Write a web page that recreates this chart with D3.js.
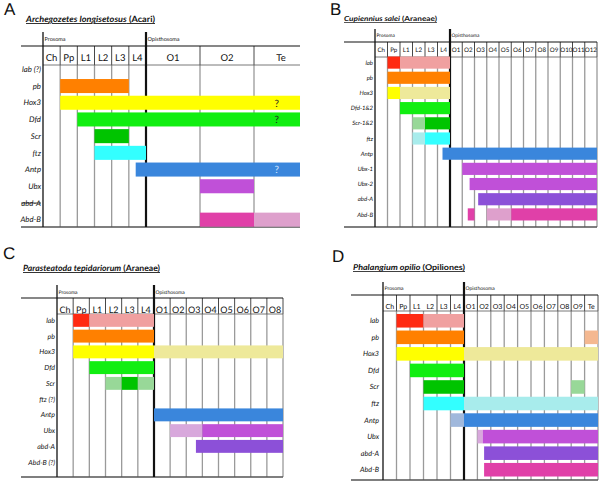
<!DOCTYPE html>
<html><head><meta charset="utf-8">
<script src="https://cdn.jsdelivr.net/npm/d3@7"></script>
<style>
body{margin:0;background:#fff;-webkit-font-smoothing:antialiased}
svg{display:block}
text{font-family:Lato,"Open Sans",sans-serif;fill:#111;text-rendering:geometricPrecision}
</style>
</head><body>
<svg id="chart" width="600" height="482"></svg>
<script>
// ---------------- DATA ----------------
const geneKeys = ["lab","pb","Hox3","Dfd","Scr","ftz","Antp","Ubx","abd-A","Abd-B"];

// Panel A
const titleA = ["Archegozetes longisetosus", "Acari"];
const columnsA = ["Ch","Pp","L1","L2","L3","L4","O1","O2","Te"];
const rowsA = ["lab (?)","pb","Hox3","Dfd","Scr","ftz","Antp","Ubx","abd-A","Abd-B"];
const struckA = ["abd-A"];
const barsA = [
  {row:"pb", from:1, to:5, level:"strong"},
  {row:"Hox3", from:1, to:9, level:"strong"},
  {row:"Dfd", from:2, to:9, level:"strong"},
  {row:"Scr", from:3, to:5, level:"strong"},
  {row:"ftz", from:3, to:6, level:"strong"},
  {row:"Antp", from:5.4, to:9, level:"strong"},
  {row:"Ubx", from:7, to:8, level:"strong"},
  {row:"Abd-B", from:7, to:8, level:"strong"},
  {row:"Abd-B", from:8, to:9, level:"weak"}
];
const notesA = [
  {row:"Hox3", col:"Te", text:"?", tone:"dark"},
  {row:"Dfd", col:"Te", text:"?", tone:"dark"},
  {row:"Antp", col:"Te", text:"?", tone:"light"}
];

// Panel B
const titleB = ["Cupiennius salei", "Araneae"];
const columnsB = ["Ch","Pp","L1","L2","L3","L4","O1","O2","O3","O4","O5","O6","O7","O8","O9","O10","O11","O12"];
const rowsB = ["lab","pb","Hox3","Dfd-1&2","Scr-1&2","ftz","Antp","Ubx-1","Ubx-2","abd-A","Abd-B"];
const barsB = [
  {row:"lab", from:1, to:2, level:"strong"},
  {row:"lab", from:2, to:6, level:"weak"},
  {row:"pb", from:1, to:6, level:"strong"},
  {row:"Hox3", from:1, to:2, level:"strong"},
  {row:"Hox3", from:2, to:6, level:"weak"},
  {row:"Dfd-1&2", from:2, to:6, level:"strong"},
  {row:"Scr-1&2", from:3, to:4, level:"weak"},
  {row:"Scr-1&2", from:4, to:6, level:"strong"},
  {row:"ftz", from:3, to:4, level:"weak"},
  {row:"ftz", from:4, to:6, level:"strong"},
  {row:"Antp", from:5.4, to:18, level:"strong"},
  {row:"Ubx-1", from:7, to:18, level:"strong"},
  {row:"Ubx-2", from:7.6, to:18, level:"strong"},
  {row:"abd-A", from:8.3, to:18, level:"strong"},
  {row:"Abd-B", from:7.45, to:8, level:"strong"},
  {row:"Abd-B", from:9, to:11, level:"weak"},
  {row:"Abd-B", from:11, to:18, level:"strong"}
];

// Panel C
const titleC = ["Parasteatoda tepidariorum", "Araneae"];
const columnsC = ["Ch","Pp","L1","L2","L3","L4","O1","O2","O3","O4","O5","O6","O7","O8"];
const rowsC = ["lab","pb","Hox3","Dfd","Scr","ftz  (?)","Antp","Ubx","abd-A","Abd-B (?)"];
const barsC = [
  {row:"lab", from:1, to:2, level:"strong"},
  {row:"lab", from:2, to:6, level:"weak"},
  {row:"pb", from:1, to:6, level:"strong"},
  {row:"Hox3", from:1, to:6, level:"strong"},
  {row:"Hox3", from:6, to:14, level:"weak"},
  {row:"Dfd", from:2, to:6, level:"strong"},
  {row:"Scr", from:3, to:4, level:"weak"},
  {row:"Scr", from:4, to:5, level:"strong"},
  {row:"Scr", from:5, to:6, level:"weak"},
  {row:"Antp", from:6, to:14, level:"strong"},
  {row:"Ubx", from:7, to:9, level:"weak"},
  {row:"Ubx", from:9, to:14, level:"strong"},
  {row:"abd-A", from:8.6, to:14, level:"strong"}
];

// Panel D
const titleD = ["Phalangium opilio", "Opiliones"];
const columnsD = ["Ch","Pp","L1","L2","L3","L4","O1","O2","O3","O4","O5","O6","O7","O8","O9","Te"];
const rowsD = ["lab","pb","Hox3","Dfd","Scr","ftz","Antp","Ubx","abd-A","Abd-B"];
const barsD = [
  {row:"lab", from:1, to:3, level:"strong"},
  {row:"lab", from:3, to:6, level:"weak"},
  {row:"pb", from:1, to:6, level:"strong"},
  {row:"pb", from:15, to:16, level:"weak"},
  {row:"Hox3", from:1, to:6, level:"strong"},
  {row:"Hox3", from:6, to:16, level:"weak"},
  {row:"Dfd", from:2, to:6, level:"strong"},
  {row:"Scr", from:3, to:6, level:"strong"},
  {row:"Scr", from:14, to:15, level:"weak"},
  {row:"ftz", from:3, to:6, level:"strong"},
  {row:"ftz", from:6, to:16, level:"weak"},
  {row:"Antp", from:5, to:6, level:"weak"},
  {row:"Antp", from:6, to:16, level:"strong"},
  {row:"Ubx", from:7, to:7.4, level:"weak"},
  {row:"Ubx", from:7.4, to:16, level:"strong"},
  {row:"abd-A", from:7.5, to:16, level:"strong"},
  {row:"Abd-B", from:7.5, to:16, level:"strong"}
];

// ---------------- STYLE ----------------
const colorMap = {
  "lab":   ["#ff2a12", "#f0a0a0"],
  "pb":    ["#ff8000", "#f4b890"],
  "Hox3":  ["#ffff00", "#eee99a"],
  "Dfd":   ["#11ee11", "#11ee11"],
  "Scr":   ["#00c400", "#98d898"],
  "ftz":   ["#33ffff", "#a8ecec"],
  "Antp":  ["#3a86dc", "#a0b8dc"],
  "Ubx":   ["#c050d8", "#d8a8dc"],
  "abd-A": ["#8c50d8", "#8c50d8"],
  "Abd-B": ["#e040a8", "#dea0cc"]
};
const geneKey = label => geneKeys.find(k => label.startsWith(k));

const svg = d3.select("#chart");

function drawPanel(cfg, columns, rows, bars, notes, title, struck) {
  let g = svg.append("g");
  svg.append("text").attr("x", cfg.letterX).attr("y", cfg.letterY)
    .style("font-family", "'Liberation Sans', Arial, sans-serif")
    .style("font-size", "17px").text(cfg.letter);
  if (cfg.clip) {
    svg.append("clipPath").attr("id", "clip" + cfg.letter)
      .append("rect").attr("x", 0).attr("y", 0).attr("width", cfg.clip).attr("height", 482);
    g.attr("clip-path", `url(#clip${cfg.letter})`);
  }
  const n = columns.length;
  const x = d3.scaleLinear().domain([0, 6, n]).range([cfg.x0, cfg.xMid, cfg.x1]);
  const y = d3.scaleBand().domain(rows).range([cfg.r0, cfg.r1])
    .paddingInner(cfg.pad).paddingOuter(cfg.pad / 2);

  const t = g.append("text").attr("x", cfg.titleX).attr("y", cfg.titleY)
    .style("font-size", cfg.titleSize + "px").style("font-weight", "bold")
    .style("text-decoration", "underline");
  if (cfg.titleLen) t.attr("textLength", cfg.titleLen).attr("lengthAdjust", "spacingAndGlyphs");
  t.append("tspan").style("font-style", "italic").text(title[0]);
  t.append("tspan").text(" (" + title[1] + ")");

  g.append("text").attr("x", x(0) + 1.5).attr("y", cfg.regionY)
    .style("font-size", cfg.regionSize + "px").text("Prosoma");
  g.append("text").attr("x", x(6) + 1.5).attr("y", cfg.regionY)
    .style("font-size", cfg.regionSize + "px").text("Opisthosoma");

  const bounds = d3.range(1, n + 1).filter(i => i !== 6);
  g.selectAll(null).data(bounds).enter().append("line")
    .attr("x1", d => x(d)).attr("x2", d => x(d))
    .attr("y1", cfg.subY).attr("y2", cfg.bottomY)
    .attr("stroke", "#9a9a9a").attr("stroke-width", 1.3);
  g.selectAll(null).data(bounds.filter(i => !(cfg.headerSkip || []).includes(i))).enter().append("line")
    .attr("x1", d => x(d)).attr("x2", d => x(d))
    .attr("y1", cfg.headerY).attr("y2", cfg.subY)
    .attr("stroke", "#333").attr("stroke-width", 0.9);

  g.append("line").attr("x1", cfg.lineLeft).attr("x2", x(n))
    .attr("y1", cfg.headerY).attr("y2", cfg.headerY)
    .attr("stroke", "#111").attr("stroke-width", 1.2);
  g.append("line").attr("x1", x(0)).attr("x2", x(n))
    .attr("y1", cfg.subY).attr("y2", cfg.subY)
    .attr("stroke", "#555").attr("stroke-width", 0.8);
  g.append("line").attr("x1", cfg.lineLeft).attr("x2", x(n))
    .attr("y1", cfg.bottomY).attr("y2", cfg.bottomY)
    .attr("stroke", "#555").attr("stroke-width", 1.6);

  g.selectAll(null).data(columns).enter().append("text")
    .attr("x", (d, i) => x(i + 0.5)).attr("y", cfg.colY)
    .attr("text-anchor", "middle")
    .style("font-size", cfg.colSize + "px").text(d => d);

  g.selectAll(null).data(bars).enter().append("rect")
    .attr("x", d => x(d.from)).attr("width", d => x(d.to) - x(d.from))
    .attr("y", d => y(d.row)).attr("height", y.bandwidth())
    .attr("fill", d => colorMap[geneKey(d.row)][d.level === "strong" ? 0 : 1]);

  g.insert("line", "rect").attr("x1", x(0)).attr("x2", x(0))
    .attr("y1", cfg.topY).attr("y2", cfg.bottomY)
    .attr("stroke", "#111").attr("stroke-width", 1.3);
  g.insert("line", "rect").attr("x1", x(6)).attr("x2", x(6))
    .attr("y1", cfg.topY).attr("y2", cfg.bottomY)
    .attr("stroke", "#111").attr("stroke-width", 2.2);

  g.selectAll(null).data(rows).enter().append("text")
    .attr("x", cfg.rowLabelX).attr("y", d => y(d) + y.bandwidth() / 2)
    .attr("dy", "0.35em").attr("text-anchor", "end")
    .style("font-size", cfg.rowSize + "px").style("font-style", "italic")
    .style("text-decoration", d => (struck || []).includes(d) ? "line-through" : null)
    .text(d => d);

  g.selectAll(null).data(notes || []).enter().append("text")
    .attr("x", d => x(columns.indexOf(d.col) + 0.42))
    .attr("y", d => y(d.row) + y.bandwidth() / 2).attr("dy", "0.38em")
    .attr("text-anchor", "middle")
    .style("font-size", "10px")
    .style("fill", d => d.tone === "light" ? "#d6e6ff" : "#222")
    .text(d => d.text);
}

drawPanel({letter:"A", letterX:4, letterY:15, clip:300,
  titleX:26, titleY:22, titleSize:8.5, titleLen:129,
  x0:43, xMid:146, x1:308, r0:61, r1:228, pad:0.16,
  topY:32, headerY:46, subY:65, bottomY:227, lineLeft:21,
  regionY:41, regionSize:5.5, colY:61, colSize:9.5, rowLabelX:41, rowSize:7.8},
  columnsA, rowsA, barsA, notesA, titleA, struckA);

drawPanel({letter:"B", letterX:330, letterY:15,
  titleX:344, titleY:21, titleSize:7, titleLen:93,
  x0:375, xMid:450, x1:597, r0:55, r1:222, pad:0.2,
  topY:29, headerY:42, subY:57, bottomY:227, lineLeft:344,
  regionY:37, regionSize:4.8, colY:51.5, colSize:6.2, rowLabelX:373, rowSize:6},
  columnsB, rowsB, barsB, [], titleB, []);

drawPanel({letter:"C", letterX:3, letterY:259,
  titleX:23, titleY:271, titleSize:8.5, titleLen:137,
  x0:57, xMid:154, x1:283, r0:312.5, r1:470, pad:0.18,
  topY:285, headerY:298, subY:314, bottomY:477, lineLeft:21,
  regionY:294, regionSize:5, colY:312.5, colSize:9, rowLabelX:55, rowSize:7},
  columnsC, rowsC, barsC, [], titleC, []);

drawPanel({letter:"D", letterX:332, letterY:262,
  titleX:353, titleY:270, titleSize:8, titleLen:112,
  x0:383, xMid:464, x1:598, r0:312.5, r1:478, pad:0.18,
  topY:282, headerY:295, subY:311, bottomY:480, lineLeft:351, headerSkip:[3],
  regionY:290, regionSize:5, colY:309, colSize:7, rowLabelX:379, rowSize:7.2},
  columnsD, rowsD, barsD, [], titleD, []);
</script>
</body></html>
